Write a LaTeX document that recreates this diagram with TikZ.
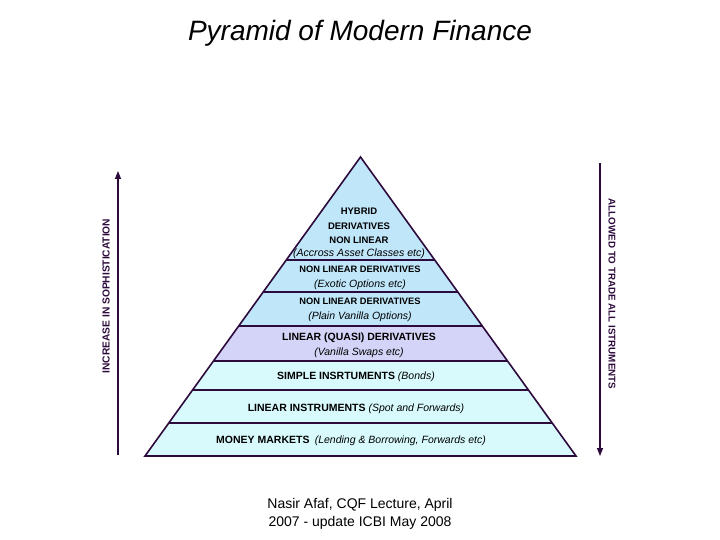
\documentclass[tikz,border=0pt]{standalone}
\usepackage{fontspec}
\setmainfont{Liberation Sans}
\usetikzlibrary{arrows.meta, calc}
\definecolor{pyrline}{RGB}{45, 10, 60}
\definecolor{hybblue}{RGB}{192, 230, 250}
\definecolor{quasiviolet}{RGB}{212, 212, 248}
\definecolor{basecyan}{RGB}{216, 250, 252}
\tikzset{
  layerline/.style={draw=pyrline, line width=1.6pt, line join=miter},
  layertext/.style={font=\fontsize{10.5}{15}\selectfont, align=center, inner sep=0pt},
  sidearrow/.style={draw=pyrline, line width=1.4pt, -{Triangle[length=8pt, width=6pt]}},
  sidetext/.style={font=\bfseries\fontsize{10.2}{11}\selectfont, text=pyrline, inner sep=0pt}
}
\newcommand{\nlbold}[1]{{\fontsize{9.3}{15}\selectfont\textbf{#1}}}

\begin{document}
\begin{tikzpicture}[x=1pt, y=-1pt]
  \useasboundingbox (0,0) rectangle (720,540);

  % Title
  \node[font=\itshape\fontsize{28}{32}\selectfont] (title) at (360,33) {Pyramid of Modern Finance};

  % Pyramid corners
  \coordinate (apex) at (360.5,157);
  \coordinate (bl) at (145,456);
  \coordinate (br) at (576,456);

  % Hybrid derivatives (top)
  \fill[hybblue] (apex) -- ($(apex)!0.3445!(br)$) -- ($(apex)!0.3445!(bl)$) -- cycle;
  % Exotic and plain vanilla options
  \fill[hybblue] ($(apex)!0.3445!(bl)$) -- ($(apex)!0.3445!(br)$) -- ($(apex)!0.6823!(br)$) -- ($(apex)!0.6823!(bl)$) -- cycle;
  % Linear (quasi) derivatives
  \fill[quasiviolet] ($(apex)!0.5652!(bl)$) -- ($(apex)!0.5652!(br)$) -- ($(apex)!0.6823!(br)$) -- ($(apex)!0.6823!(bl)$) -- cycle;
  % Simple, linear instruments, money markets
  \fill[basecyan] ($(apex)!0.6823!(bl)$) -- ($(apex)!0.6823!(br)$) -- (br) -- (bl) -- cycle;

  % Layer borders
  \draw[layerline] ($(apex)!0.3445!(bl)$) -- ($(apex)!0.3445!(br)$);
  \draw[layerline] ($(apex)!0.4515!(bl)$) -- ($(apex)!0.4515!(br)$);
  \draw[layerline] ($(apex)!0.5652!(bl)$) -- ($(apex)!0.5652!(br)$);
  \draw[layerline] ($(apex)!0.6823!(bl)$) -- ($(apex)!0.6823!(br)$);
  \draw[layerline] ($(apex)!0.7793!(bl)$) -- ($(apex)!0.7793!(br)$);
  \draw[layerline] ($(apex)!0.8896!(bl)$) -- ($(apex)!0.8896!(br)$);
  \draw[layerline] (apex) -- (br) -- (bl) -- cycle;

  % Layer texts
  \node[layertext, font=\fontsize{9.5}{14.5}\selectfont] (hybrid) at (359,233.5) {\textbf{HYBRID}\\\textbf{DERIVATIVES}\\\textbf{NON LINEAR}\\[-2pt]{\fontsize{10.6}{12}\selectfont\textit{(Accross Asset Classes etc)}}};
  \node[layertext] (exotic) at (360,278) {\nlbold{NON LINEAR DERIVATIVES}\\\textit{(Exotic Options etc)}};
  \node[layertext] (plain) at (360,309.5) {\nlbold{NON LINEAR DERIVATIVES}\\\textit{(Plain Vanilla Options)}};
  \node[layertext] (quasi) at (359,345.5) {\textbf{LINEAR (QUASI) DERIVATIVES}\\\textit{(Vanilla Swaps etc)}};
  \node[layertext] (simple) at (356,376.5) {\textbf{SIMPLE INSRTUMENTS} \textit{(Bonds)}};
  \node[layertext] (linear) at (356,408.5) {\textbf{LINEAR INSTRUMENTS} \textit{(Spot and Forwards)}};
  \node[layertext] (money) at (351,440.5) {\textbf{MONEY MARKETS}\enspace\textit{(Lending \& Borrowing, Forwards etc)}};

  % Sophistication arrow
  \coordinate (sophbot) at (118,455);
  \coordinate (sophtop) at (118,171);
  \draw[sidearrow] (sophbot) -- (sophtop);
  \node[sidetext, rotate=90] (soph) at (106,296) {INCREASE IN SOPHISTICATION};

  % Trading arrow
  \coordinate (tradetop) at (600,163);
  \coordinate (tradebot) at (600,456);
  \draw[sidearrow] (tradetop) -- (tradebot);
  \node[sidetext, rotate=-90, font=\bfseries\fontsize{9.8}{11}\selectfont] (trade) at (612,294) {ALLOWED TO TRADE ALL ISTRUMENTS};

  % Source
  \node[font=\fontsize{14}{18}\selectfont, align=center] (source) at (360,514) {Nasir Afaf, CQF Lecture, April\\2007 - update ICBI May 2008};
\end{tikzpicture}
\end{document}
